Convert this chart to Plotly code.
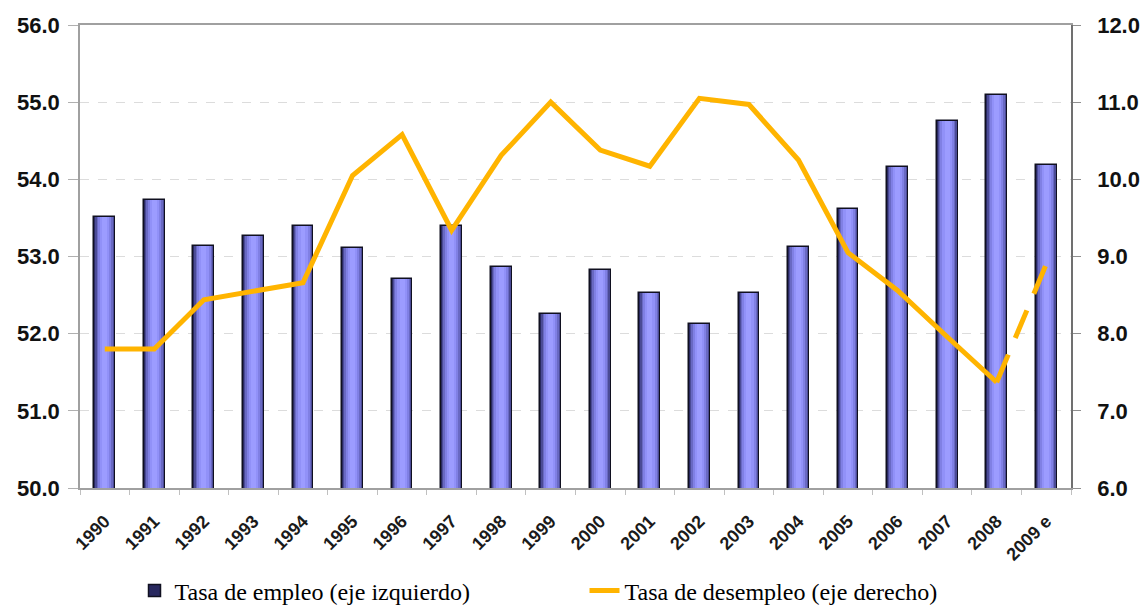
import plotly.graph_objects as go

# Employment rate (left axis) and unemployment rate (right axis), 1990-2009e
years = ["1990", "1991", "1992", "1993", "1994", "1995", "1996", "1997", "1998", "1999",
         "2000", "2001", "2002", "2003", "2004", "2005", "2006", "2007", "2008", "2009 e"]
employment = [53.51, 53.73, 53.13, 53.27, 53.40, 53.11, 52.71, 53.40, 52.87, 52.26,
              52.83, 52.53, 52.12, 52.53, 53.12, 53.62, 54.16, 54.75, 55.09, 54.19]
unemployment = [7.80, 7.80, 8.44, 8.55, 8.66, 10.05, 10.58, 9.34, 10.31, 11.00,
                10.38, 10.17, 11.05, 10.97, 10.25, 9.05, 8.56, 7.96, 7.37, 8.90]

# observed years drawn solid, the estimate joined with a dashed segment
n_obs = 19

fig = go.Figure()

# cylinder-like shading: stacked bars of shrinking width, darker at the edges
shades = [
    (0.42, "rgb(40,40,95)"),
    (0.38, "rgb(75,75,150)"),
    (0.33, "rgb(105,105,195)"),
    (0.27, "rgb(128,128,228)"),
    (0.19, "rgb(145,145,248)"),
    (0.10, "rgb(156,156,255)"),
]
for i, (w, c) in enumerate(shades):
    fig.add_trace(go.Bar(
        x=years, y=employment, width=w,
        marker=dict(color=c, line=dict(color="#101020", width=1.5 if i == 0 else 0)),
        name="Tasa de empleo (eje izquierdo)",
        showlegend=(i == 0), hoverinfo="skip" if i else None,
    ))

fig.add_trace(go.Scatter(
    x=years[:n_obs], y=unemployment[:n_obs], yaxis="y2", mode="lines",
    line=dict(color="#FFB400", width=5),
    name="Tasa de desempleo (eje derecho)",
))
fig.add_trace(go.Scatter(
    x=years[n_obs - 1:], y=unemployment[n_obs - 1:], yaxis="y2", mode="lines",
    line=dict(color="#FFB400", width=5, dash="30px,18px"),
    showlegend=False,
))

tick_font = dict(family="Liberation Sans, Arial", size=22, color="#111111", weight="bold")

fig.update_layout(
    width=1143, height=612,
    margin=dict(l=80, r=72, t=25, b=124, autoexpand=False),
    paper_bgcolor="white", plot_bgcolor="white",
    barmode="overlay", bargap=0,
    showlegend=True,
    xaxis=dict(
        type="category", tickangle=-45, automargin=False,
        tickfont=dict(family="Liberation Sans, Arial", size=18, color="#1a1a1a", weight="bold"),
        ticklabelstandoff=14,
        showline=True, linecolor="#a0a0a0", linewidth=1.5, mirror=True,
        ticks="outside", tickson="boundaries", ticklen=5, tickcolor="#c0c0c0",
        showgrid=False,
    ),
    yaxis=dict(
        range=[50, 56], dtick=1, tickformat=".1f", automargin=False,
        tickfont=tick_font, ticklabelstandoff=4,
        showline=True, linecolor="#a0a0a0", linewidth=1.5,
        ticks="outside", ticklen=10, tickcolor="#b0b0b0",
        showgrid=True, gridcolor="#dcdcdc", griddash="dash", gridwidth=1,
        zeroline=False,
    ),
    yaxis2=dict(
        range=[6, 12], dtick=1, tickformat=".1f", overlaying="y", side="right",
        automargin=False,
        tickfont=tick_font, ticklabelstandoff=12,
        showline=True, linecolor="#707070", linewidth=1.5,
        ticks="outside", ticklen=8, tickcolor="#909090",
        showgrid=False, zeroline=False,
    ),
    legend=dict(
        orientation="h", x=0.055, y=-0.222, xanchor="left", yanchor="middle",
        font=dict(family="Liberation Serif, Times New Roman", size=24, color="#000000"),
        entrywidth=405, entrywidthmode="pixels",
        bgcolor="rgba(0,0,0,0)",
    ),
)

fig.write_html("out.html")
